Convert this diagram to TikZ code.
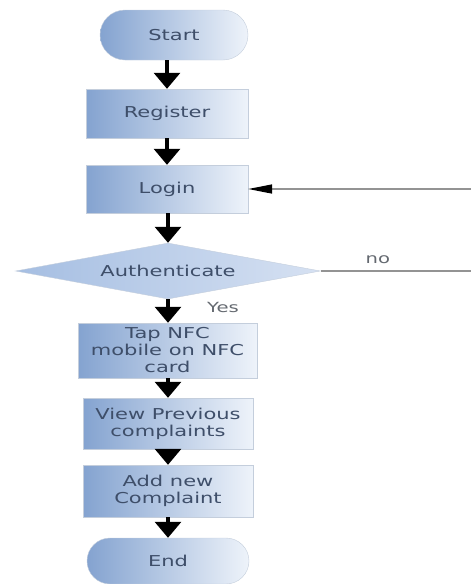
\documentclass[tikz,border=0pt]{standalone}
\usepackage{fontspec}
\newfontfamily\flowfont[FakeStretch=1.4]{DejaVu Sans}
\usetikzlibrary{arrows.meta, shapes.geometric, shapes.misc}
\definecolor{boxdark}{RGB}{132,163,208}
\definecolor{boxlight}{RGB}{238,243,250}
\definecolor{boxline}{RGB}{196,206,220}
\definecolor{diadark}{RGB}{165,190,226}
\definecolor{dialight}{RGB}{214,225,242}
\definecolor{flowtext}{RGB}{62,78,105}
\definecolor{labeltext}{RGB}{100,105,112}

\begin{document}
\begin{tikzpicture}[x=1pt, y=-1pt, >=Triangle,
    every node/.style={font=\flowfont\fontsize{15}{17}\selectfont, text=flowtext, align=center},
    box/.style={draw=boxline, left color=boxdark, right color=boxlight, inner sep=2pt},
    term/.style={box, rounded rectangle},
    flow/.style={-{Triangle[width=26pt,length=16pt]}, line width=3.2pt},
    back/.style={draw=gray!85, line width=1.6pt},
    lbl/.style={font=\flowfont\fontsize{14}{16}\selectfont, text=labeltext}]
    \useasboundingbox (0,0) rectangle (471,584);

    % Inicio y registro
    \node[term, minimum width=152pt, minimum height=50pt] (start) at (174,35) {Start};
    \node[box, minimum width=162pt, minimum height=49pt] (register) at (167,113.5) {Register};
    \node[box, minimum width=162pt, minimum height=48pt] (login) at (167,189) {Login};

    % Decision
    \node[diamond, aspect=5.4, inner sep=0pt, draw=boxline, left color=diadark, right color=dialight,
          minimum width=305pt, minimum height=56pt] (auth) at (168,271) {Authenticate};

    % Pasos tras autenticar
    \node[box, minimum width=179pt, minimum height=55pt] (tap) at (167.5,350.5) {Tap NFC\\mobile on NFC\\card};
    \node[box, minimum width=170pt, minimum height=51pt] (view) at (168,423.5) {View Previous\\complaints};
    \node[box, minimum width=170pt, minimum height=52pt] (add) at (168,491) {Add new\\Complaint};
    \node[term, minimum width=166pt, minimum height=46pt] (end) at (168,561) {End};

    % Flechas principales
    \draw[flow] (register.north |- start.south) -- (register.north);
    \draw[flow] (register) -- (login);
    \draw[flow] (login.south -| auth.north) -- (auth.north);
    \draw[flow] (auth.south) -- (auth.south |- tap.north);
    \draw[flow] (auth.south |- tap.south) -- (auth.south |- view.north);
    \draw[flow] (view) -- (add);
    \draw[flow] (add) -- (end);
    \node[lbl] (yes) at (223,307) {Yes};

    % Rama "no" de vuelta al login
    \coordinate (noout) at (471,271);
    \coordinate (loopin) at (471,189);
    \draw[back] (auth.east) -- (noout) node[lbl, pos=0.38, above=3pt] (no) {no};
    \draw[back, -{Triangle[width=9pt,length=24pt,color=black]}] (loopin) -- (login.east);
\end{tikzpicture}
\end{document}
